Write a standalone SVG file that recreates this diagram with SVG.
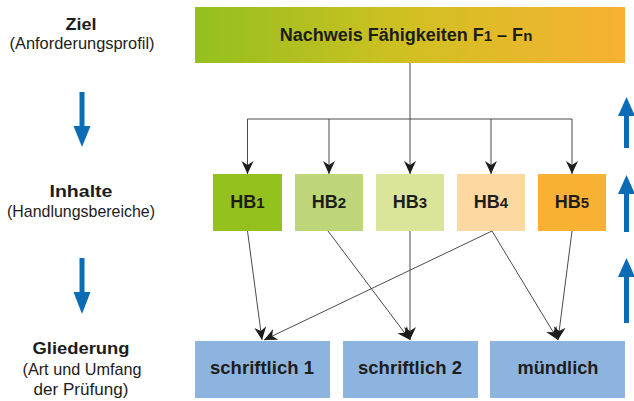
<svg xmlns="http://www.w3.org/2000/svg" width="634" height="401" viewBox="0 0 634 401">
  <style>
    .t { font-family: "Liberation Sans", Arial, sans-serif; fill: #1d1d1b; }
    .b { font-weight: bold; }
    .lbl { font-size: 17px; text-anchor: middle; }
    .sub { font-size: 17px; text-anchor: middle; }
    .box { font-size: 19px; font-weight: bold; text-anchor: middle; }
    .hb { font-size: 18px; font-weight: bold; text-anchor: middle; }
    .idx { font-size: 15px; }
    .conn { stroke: #4a4a4a; stroke-width: 1; fill: none; }
    .blue { fill: #0b6cb5; }
  </style>
  <defs>
    <linearGradient id="goal" x1="0" y1="0" x2="1" y2="0">
      <stop offset="0" stop-color="#93c01f"/>
      <stop offset="0.5" stop-color="#d1c022"/>
      <stop offset="1" stop-color="#f8b133"/>
    </linearGradient>
    <marker id="head" markerUnits="userSpaceOnUse" markerWidth="14" markerHeight="14" viewBox="0 0 14 14" refX="13" refY="7" orient="auto">
      <path d="M0,1 L13,7 L0,13 L4,7 Z" fill="#1d1d1b"/>
    </marker>
  </defs>

  <!-- level labels -->
  <g id="label-ziel">
    <text class="t b lbl" x="81" y="30" textLength="31" lengthAdjust="spacingAndGlyphs">Ziel</text>
    <text class="t sub" x="82" y="49" textLength="145" lengthAdjust="spacingAndGlyphs">(Anforderungsprofil)</text>
  </g>
  <g id="label-inhalte">
    <text class="t b lbl" x="81" y="197" textLength="63" lengthAdjust="spacingAndGlyphs">Inhalte</text>
    <text class="t sub" x="81" y="217" textLength="148" lengthAdjust="spacingAndGlyphs">(Handlungsbereiche)</text>
  </g>
  <g id="label-gliederung">
    <text class="t b lbl" x="81" y="354" textLength="97" lengthAdjust="spacingAndGlyphs">Gliederung</text>
    <text class="t sub" x="82" y="375" textLength="119" lengthAdjust="spacingAndGlyphs">(Art und Umfang</text>
    <text class="t sub" x="81" y="395" textLength="95" lengthAdjust="spacingAndGlyphs">der Prüfung)</text>
  </g>

  <!-- direction arrows -->
  <g id="arrows-down">
    <rect class="blue" x="79.5" y="92" width="5" height="36"/>
    <polygon class="blue" points="73.5,126 90.5,126 82,147"/>
    <rect class="blue" x="79.5" y="258" width="5" height="36"/>
    <polygon class="blue" points="73.5,292 90.5,292 82,314"/>
  </g>
  <g id="arrows-up">
    <rect class="blue" x="624" y="113" width="5" height="35"/>
    <polygon class="blue" points="618,116 635,116 626.5,97"/>
    <rect class="blue" x="624" y="191" width="5" height="41"/>
    <polygon class="blue" points="618,194 635,194 626.5,175"/>
    <rect class="blue" x="624" y="274" width="5" height="49"/>
    <polygon class="blue" points="618,277 635,277 626.5,258"/>
  </g>

  <!-- goal -->
  <g id="goal-box">
    <rect x="195" y="7" width="430" height="56" fill="url(#goal)"/>
    <text class="t hb" x="406" y="41">Nachweis Fähigkeiten F<tspan class="idx">1</tspan> – F<tspan class="idx">n</tspan></text>
  </g>

  <!-- content areas -->
  <g id="hb1">
    <rect x="213" y="174" width="69" height="57" fill="#95c11f"/>
    <text class="t hb" x="247.5" y="208">HB<tspan class="idx">1</tspan></text>
  </g>
  <g id="hb2">
    <rect x="295" y="174" width="68" height="57" fill="#bed679"/>
    <text class="t hb" x="329" y="208">HB<tspan class="idx">2</tspan></text>
  </g>
  <g id="hb3">
    <rect x="376" y="174" width="68" height="57" fill="#dae59a"/>
    <text class="t hb" x="410" y="208">HB<tspan class="idx">3</tspan></text>
  </g>
  <g id="hb4">
    <rect x="457" y="174" width="68" height="57" fill="#fdd8a1"/>
    <text class="t hb" x="491" y="208">HB<tspan class="idx">4</tspan></text>
  </g>
  <g id="hb5">
    <rect x="538" y="174" width="68" height="57" fill="#f8b133"/>
    <text class="t hb" x="572" y="208">HB<tspan class="idx">5</tspan></text>
  </g>

  <!-- exam parts -->
  <g id="schriftlich-1">
    <rect x="195" y="341" width="135" height="57" fill="#8db4df"/>
    <text class="t box" x="262" y="374" textLength="104" lengthAdjust="spacingAndGlyphs">schriftlich 1</text>
  </g>
  <g id="schriftlich-2">
    <rect x="343" y="341" width="135" height="57" fill="#8db4df"/>
    <text class="t box" x="410" y="374" textLength="104" lengthAdjust="spacingAndGlyphs">schriftlich 2</text>
  </g>
  <g id="muendlich">
    <rect x="490" y="341" width="135" height="57" fill="#8db4df"/>
    <text class="t box" x="558" y="374" textLength="81" lengthAdjust="spacingAndGlyphs">mündlich</text>
  </g>

  <!-- connectors -->
  <g id="connectors">
    <path class="conn" d="M410,63 V119 M247.5,119 H572"/>
    <line class="conn" x1="247.5" y1="119" x2="247.5" y2="174" marker-end="url(#head)"/>
    <line class="conn" x1="329" y1="119" x2="329" y2="174" marker-end="url(#head)"/>
    <line class="conn" x1="410" y1="119" x2="410" y2="174" marker-end="url(#head)"/>
    <line class="conn" x1="491" y1="119" x2="491" y2="174" marker-end="url(#head)"/>
    <line class="conn" x1="572" y1="119" x2="572" y2="174" marker-end="url(#head)"/>

    <line class="conn" x1="247.5" y1="231" x2="262" y2="340" marker-end="url(#head)"/>
    <line class="conn" x1="328" y1="231" x2="410" y2="340" marker-end="url(#head)"/>
    <line class="conn" x1="410" y1="231" x2="410" y2="340" marker-end="url(#head)"/>
    <line class="conn" x1="492" y1="231" x2="264" y2="340" marker-end="url(#head)"/>
    <line class="conn" x1="492" y1="231" x2="558" y2="340" marker-end="url(#head)"/>
    <line class="conn" x1="572" y1="231" x2="558" y2="340" marker-end="url(#head)"/>
  </g>
</svg>
